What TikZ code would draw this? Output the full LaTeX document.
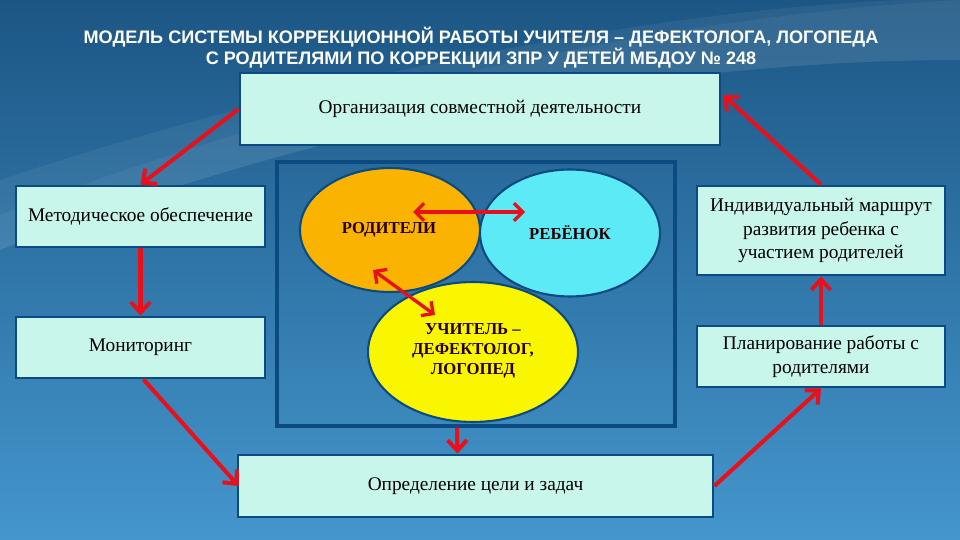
\documentclass[tikz,border=0pt]{standalone}
\usepackage{fontspec}
\setmainfont{Liberation Serif}
\newfontfamily\titlefont{Liberation Sans}
\usetikzlibrary{shapes.geometric,arrows.meta,calc}
\definecolor{bgtop}{RGB}{28,86,132}
\definecolor{bgbot}{RGB}{68,150,205}
\definecolor{boxfill}{RGB}{200,246,234}
\definecolor{boxline}{RGB}{12,74,130}
\definecolor{redarrow}{RGB}{232,16,26}
\definecolor{orangefill}{RGB}{250,180,0}
\definecolor{cyanfill}{RGB}{92,234,246}
\definecolor{yellowfill}{RGB}{250,246,0}
\tikzset{
  infobox/.style={draw=boxline, line width=1.6pt, fill=boxfill, inner sep=2pt,
    align=center, font=\fontsize{11}{13.5}\selectfont, text=black},
  oval/.style={ellipse, draw=boxline, line width=1.2pt, inner sep=0pt, align=center,
    font=\bfseries\fontsize{9.5}{11.5}\selectfont, text=black!85!red},
  ovaltext/.style={inner sep=0pt, align=center,
    font=\bfseries\fontsize{9.5}{11.5}\selectfont, text=black!85!red},
  redarr/.style={draw=redarrow, line width=2.3pt,
    -{Straight Barb[length=6pt,width=11pt]}},
  redboth/.style={draw=redarrow, line width=1.9pt,
    {Straight Barb[length=5pt,width=10pt]}-{Straight Barb[length=5pt,width=10pt]}},
  titletext/.style={text=white, font=\titlefont\bfseries\fontsize{10.3}{12}\selectfont}
}
\begin{document}
\begin{tikzpicture}[x=0.02cm,y=-0.02cm]
\useasboundingbox (0,0) rectangle (960,540);
% background
\shade[top color=bgtop, bottom color=bgbot] (0,0) rectangle (960,540);
\fill[white, opacity=0.10] (0,215) .. controls (250,120) and (600,20) .. (960,0) -- (960,60) .. controls (600,60) and (250,150) .. (0,250) -- cycle;
\fill[white, opacity=0.06] (0,180) .. controls (300,80) and (650,10) .. (900,0) -- (960,0) .. controls (600,20) and (250,120) .. (0,215) -- cycle;
% title
\node[titletext] (t1) at (481,37) {МОДЕЛЬ СИСТЕМЫ КОРРЕКЦИОННОЙ РАБОТЫ УЧИТЕЛЯ – ДЕФЕКТОЛОГА, ЛОГОПЕДА};
\node[titletext] (t2) at (481,58) {С РОДИТЕЛЯМИ ПО КОРРЕКЦИИ ЗПР У ДЕТЕЙ МБДОУ № 248};
% boxes
\node[infobox, minimum width=9.6cm, minimum height=1.44cm] (org) at (480,109) {Организация совместной деятельности};
\node[infobox, minimum width=4.98cm, minimum height=1.22cm] (met) at (140.5,216.5) {Методическое обеспечение};
\node[infobox, minimum width=4.98cm, minimum height=1.22cm] (mon) at (140.5,347.5) {Мониторинг};
\node[infobox, minimum width=9.5cm, minimum height=1.24cm] (opr) at (475.5,486) {Определение цели и задач};
\node[infobox, minimum width=4.96cm, minimum height=1.78cm] (ind) at (821,230.5) {Индивидуальный маршрут\\развития ребенка с\\участием родителей};
\node[infobox, minimum width=4.96cm, minimum height=1.22cm] (plan) at (821,356.5) {Планирование работы с\\родителями};
% central frame
\node[draw=boxline, line width=2pt, minimum width=7.96cm, minimum height=5.28cm] (core) at (476,294) {};
% ellipses
\node[oval, fill=orangefill, minimum width=3.6cm, minimum height=2.48cm] (rod) at (390,230) {};
\node[oval, fill=cyanfill, minimum width=3.6cm, minimum height=2.54cm] (reb) at (570,233) {};
\node[oval, fill=yellowfill, minimum width=4.2cm, minimum height=2.8cm] (uch) at (473,352) {};
\node[ovaltext] (rodt) at (389,230) {РОДИТЕЛИ};
\node[ovaltext] (rebt) at (570,233) {РЕБЁНОК};
\node[ovaltext] (ucht) at (473,351) {УЧИТЕЛЬ –\\ДЕФЕКТОЛОГ,\\ЛОГОПЕД};
% arrows between circles
\coordinate (p1) at (413,212);
\coordinate (p2) at (525,212);
\coordinate (q1) at (373,270);
\coordinate (q2) at (435,315);
\draw[redboth] (p1) -- (p2);
\draw[redboth] (q1) -- (q2);
% cycle arrows
\draw[redarr] (org.west) -- (met.north);
\draw[redarr] (met.south) -- (mon.north);
\draw[redarr] ($(mon.south)+(3,0)$) -- ($(opr.west)+(2,0)$);
\draw[redarr] (opr.east) -- (plan.south);
\draw[redarr] (plan.north) -- (ind.south);
\draw[redarr] (ind.north) -- ($(org.east)+(2,-14)$);
\draw[redarr] ($(core.south)+(-19,0)$) -- ($(opr.north)+(-18,0)$);
\end{tikzpicture}
\end{document}
